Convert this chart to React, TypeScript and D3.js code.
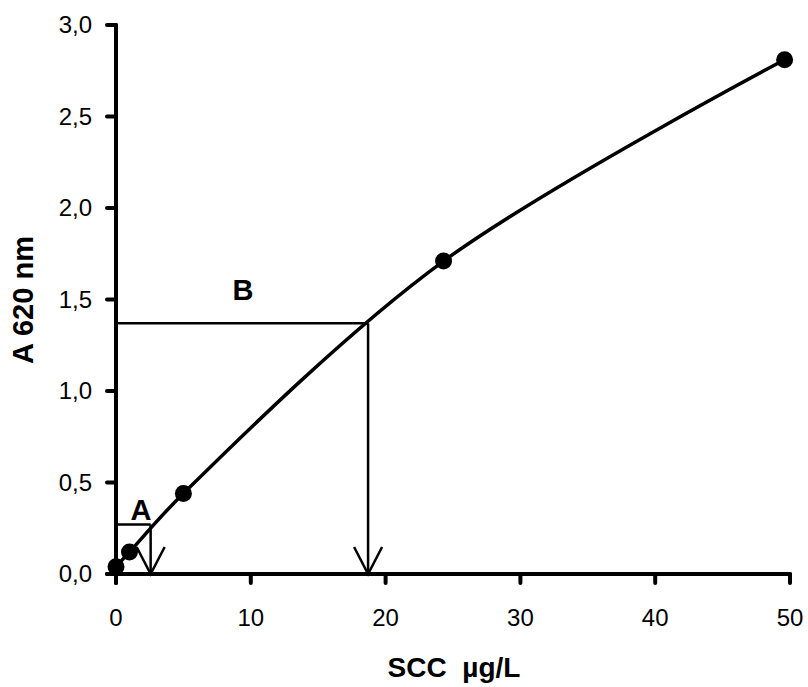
import React from 'react';
import * as d3 from 'd3';

// measured points (SCC µg/L vs absorbance)
const sccValues = [0, 1, 5, 24.3, 49.6];
const absValues = [0.04, 0.12, 0.44, 1.71, 2.81];

const xTicks = [0, 10, 20, 30, 40, 50];
const yTicks = [0, 0.5, 1, 1.5, 2, 2.5, 3];

// read-off guides: [label, x, y]
const guideLabels = ['A', 'B'];
const guideX = [2.57, 18.7];
const guideY = [0.27, 1.37];

const width = 808, height = 687;
const font = "'Liberation Sans', Arial, sans-serif";

export default function App() {
  const x = d3.scaleLinear().domain([0, 50]).range([116, 790]);
  const y = d3.scaleLinear().domain([0, 3]).range([574, 25]);

  const pts: [number, number][] = sccValues.map((v, i) => [v, absValues[i]]);
  const line = d3.line<[number, number]>()
    .x(d => x(d[0]))
    .y(d => y(d[1]))
    .curve(d3.curveCatmullRom.alpha(0.5));

  const fmt = (v: number) => d3.format('.1f')(v).replace('.', ',');

  return (
    <svg width={width} height={height} style={{ position: 'absolute', left: 0, top: 0, background: '#fff' }}>
      {/* y axis */}
      <line x1={x(0)} x2={x(0)} y1={y(3)} y2={y(0) + 9} stroke="#000" strokeWidth={4} strokeLinecap="round" />
      {yTicks.map(t => (
        <g key={'y' + t}>
          <line x1={x(0) - 9} x2={x(0)} y1={y(t)} y2={y(t)} stroke="#000" strokeWidth={4} strokeLinecap="round" />
          <text x={92} y={y(t)} dy="0.35em" textAnchor="end" fontFamily={font} fontSize={24}>{fmt(t)}</text>
        </g>
      ))}
      {/* x axis */}
      <line x1={x(0) - 9} x2={x(50)} y1={y(0)} y2={y(0)} stroke="#000" strokeWidth={4} strokeLinecap="round" />
      {xTicks.map(t => (
        <g key={'x' + t}>
          <line x1={x(t)} x2={x(t)} y1={y(0)} y2={y(0) + 9} stroke="#000" strokeWidth={4} strokeLinecap="round" />
          <text x={x(t)} y={626} textAnchor="middle" fontFamily={font} fontSize={24}>{t}</text>
        </g>
      ))}

      {/* guides */}
      {guideLabels.map((lab, i) => {
        const gx = x(guideX[i]);
        const gy = y(guideY[i]);
        const base = y(0);
        return (
          <g key={lab} stroke="#000" strokeWidth={2.5} fill="none">
            <line x1={x(0)} x2={gx} y1={gy} y2={gy} />
            <line x1={gx} x2={gx} y1={gy} y2={base} />
            <polyline points={`${gx - 14},${base - 27} ${gx},${base} ${gx + 14},${base - 27}`} />
          </g>
        );
      })}
      <text x={141} y={520} textAnchor="middle" fontFamily={font} fontWeight="bold" fontSize={29}>A</text>
      <text x={243} y={300} textAnchor="middle" fontFamily={font} fontWeight="bold" fontSize={29}>B</text>

      {/* curve + markers */}
      <path d={line(pts) || ''} fill="none" stroke="#000" strokeWidth={3.5} />
      {pts.map((p, i) => (
        <circle key={i} cx={x(p[0])} cy={y(p[1])} r={8.5} fill="#000" />
      ))}

      {/* axis titles */}
      <text x={454} y={677} textAnchor="middle" fontFamily={font} fontWeight="bold" fontSize={28} style={{ whiteSpace: 'pre' }}>SCC  µg/L</text>
      <text transform={`translate(33,300) rotate(-90)`} textAnchor="middle" fontFamily={font} fontWeight="bold" fontSize={29}>A 620 nm</text>
    </svg>
  );
}
